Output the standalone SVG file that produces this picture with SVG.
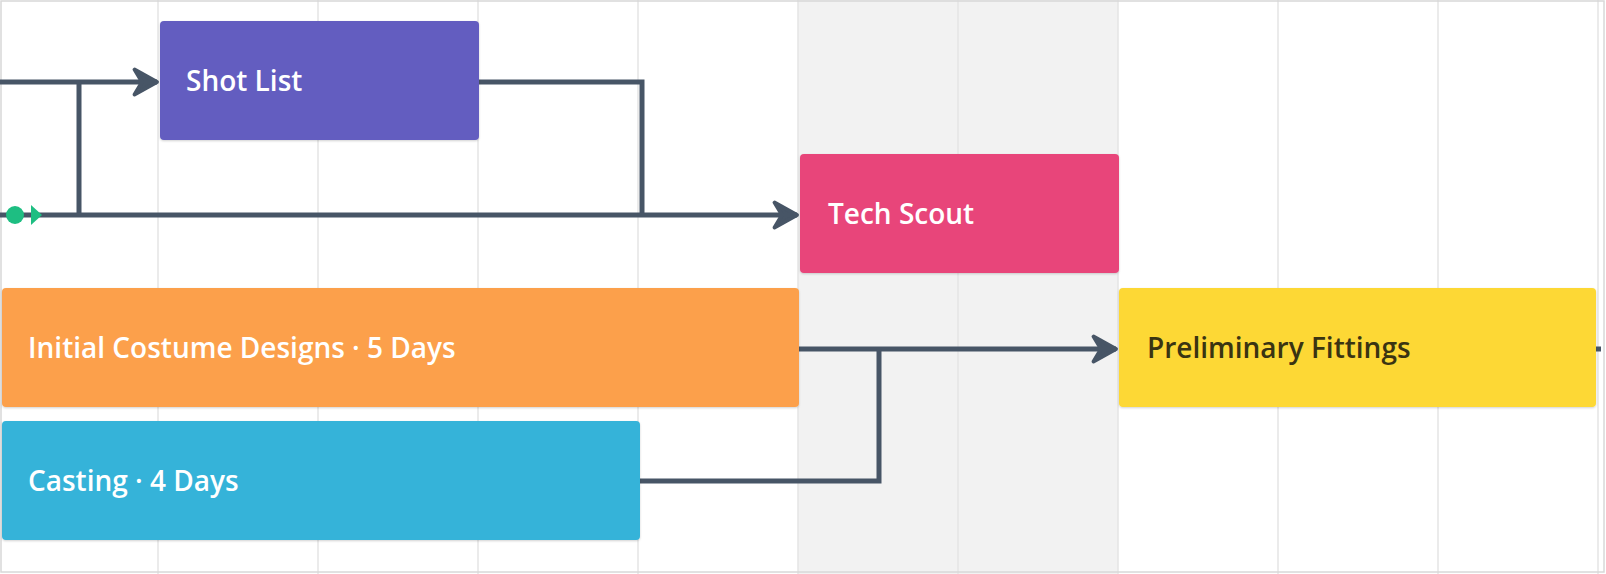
<svg xmlns="http://www.w3.org/2000/svg" width="1606" height="574" viewBox="0 0 1606 574">
<style>
.grid{stroke:#e4e4e4;stroke-width:1.5}
.conn{fill:none;stroke:#475566;stroke-width:5}
.t{font-family:"Open Sans","Noto Sans",sans-serif;font-size:28px;font-weight:600}
.w{fill:#fff}
</style>
<defs>
<marker id="arr" viewBox="0 0 12 12" refX="10" refY="6" markerWidth="6" markerHeight="6" markerUnits="strokeWidth" orient="auto">
<path d="M1,1 L10,6 L1,11 L4,6 Z" fill="#475566" stroke="#475566" stroke-width="1.5" stroke-linejoin="round"/>
</marker>
<filter id="sh" x="-5%" y="-5%" width="110%" height="115%"><feDropShadow dx="0" dy="1" stdDeviation="1.2" flood-opacity="0.18"/></filter>
</defs>
<rect x="0" y="0" width="1606" height="574" fill="#fff"/>
<rect x="798" y="0" width="320" height="574" fill="#f2f2f2"/>
<g class="grid">
<line x1="158" y1="0" x2="158" y2="574"/><line x1="318" y1="0" x2="318" y2="574"/><line x1="478" y1="0" x2="478" y2="574"/><line x1="638" y1="0" x2="638" y2="574"/><line x1="798" y1="0" x2="798" y2="574"/><line x1="958" y1="0" x2="958" y2="574"/><line x1="1118" y1="0" x2="1118" y2="574"/><line x1="1278" y1="0" x2="1278" y2="574"/><line x1="1438" y1="0" x2="1438" y2="574"/><line x1="1598" y1="0" x2="1598" y2="574"/>
</g>
<rect x="1" y="1" width="1603" height="571" fill="none" stroke="#d8d8d8" stroke-width="1.5"/>
<g id="connectors">
<path class="conn" d="M0,82 H157" marker-end="url(#arr)"/>
<path class="conn" d="M79,82 V215"/>
<path class="conn" d="M479,82 H642 V215"/>
<path class="conn" d="M0,215 H797" marker-end="url(#arr)"/>
<path class="conn" d="M799,349 H1116" marker-end="url(#arr)"/>
<path class="conn" d="M640,481 H879 V349"/>
<path class="conn" d="M1596,349 H1601"/>
<circle cx="15" cy="215" r="9" fill="#1ebe82"/>
<path d="M31,205 L42,215 L31,225 Z" fill="#1ebe82"/>
</g>
<g id="shot-list"><rect x="160" y="21" width="319" height="119" rx="4" fill="#635dc0" filter="url(#sh)"/><text class="t w" x="186" y="91">Shot List</text></g>
<g id="tech-scout"><rect x="800" y="154" width="319" height="119" rx="4" fill="#e8457a" filter="url(#sh)"/><text class="t w" x="828" y="224">Tech Scout</text></g>
<g id="costume"><rect x="2" y="288" width="797" height="119" rx="4" fill="#fca04c" filter="url(#sh)"/><text class="t w" x="28" y="358">Initial Costume Designs · 5 Days</text></g>
<g id="fittings"><rect x="1119" y="288" width="477" height="119" rx="4" fill="#fdd835" filter="url(#sh)"/><text class="t" x="1147" y="358" fill="#3a3412">Preliminary Fittings</text></g>
<g id="casting"><rect x="2" y="421" width="638" height="119" rx="4" fill="#34b3d9" filter="url(#sh)"/><text class="t w" x="28" y="491">Casting · 4 Days</text></g>
</svg>
